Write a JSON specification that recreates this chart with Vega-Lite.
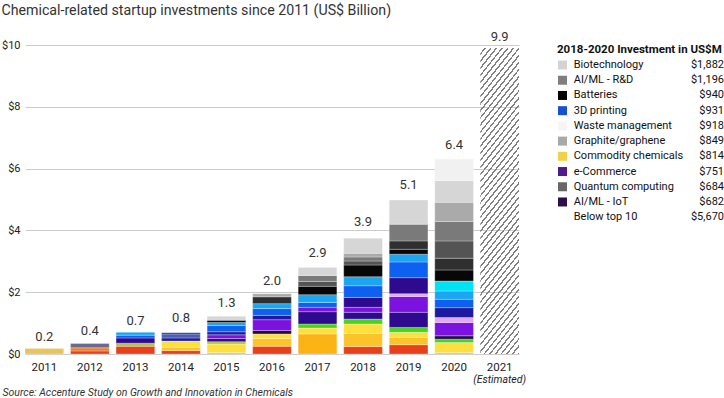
{
  "$schema": "https://vega.github.io/schema/vega-lite/v6.json",
  "padding": {"left": 1, "top": 3, "right": 0, "bottom": 0},
  "config": {"font": "Roboto", "view": {"stroke": null}},
  "title": {"text": "Chemical-related startup investments since 2011 (US$ Billion)", "anchor": "start", "frame": "bounds", "fontSize": 14.2, "fontWeight": "normal", "color": "#333333", "offset": 13},
  "datasets": {
    "segs": [
      {"year": "2011", "c": "tan", "v": 0.18, "o": 1},
      {"year": "2012", "c": "red", "v": 0.10, "o": 1},
      {"year": "2012", "c": "dorange", "v": 0.10, "o": 2},
      {"year": "2012", "c": "slate", "v": 0.14, "o": 3},
      {"year": "2013", "c": "red", "v": 0.25, "o": 1},
      {"year": "2013", "c": "lime", "v": 0.10, "o": 2},
      {"year": "2013", "c": "indigo", "v": 0.17, "o": 3},
      {"year": "2013", "c": "blue", "v": 0.09, "o": 4},
      {"year": "2013", "c": "sky", "v": 0.09, "o": 5},
      {"year": "2014", "c": "red", "v": 0.11, "o": 1},
      {"year": "2014", "c": "gold", "v": 0.11, "o": 2},
      {"year": "2014", "c": "yellow", "v": 0.20, "o": 3},
      {"year": "2014", "c": "navy", "v": 0.10, "o": 4},
      {"year": "2014", "c": "sblue", "v": 0.13, "o": 5},
      {"year": "2014", "c": "navy", "v": 0.04, "o": 6},
      {"year": "2015", "c": "gold", "v": 0.05, "o": 1},
      {"year": "2015", "c": "yellow", "v": 0.27, "o": 2},
      {"year": "2015", "c": "lime", "v": 0.08, "o": 3},
      {"year": "2015", "c": "indigo", "v": 0.10, "o": 4},
      {"year": "2015", "c": "violet", "v": 0.12, "o": 5},
      {"year": "2015", "c": "navy", "v": 0.10, "o": 6},
      {"year": "2015", "c": "blue", "v": 0.20, "o": 7},
      {"year": "2015", "c": "sky", "v": 0.10, "o": 8},
      {"year": "2015", "c": "black", "v": 0.07, "o": 9},
      {"year": "2015", "c": "vlgray", "v": 0.13, "o": 10},
      {"year": "2016", "c": "red", "v": 0.25, "o": 1},
      {"year": "2016", "c": "gold", "v": 0.25, "o": 2},
      {"year": "2016", "c": "yellow", "v": 0.15, "o": 3},
      {"year": "2016", "c": "dpurple", "v": 0.11, "o": 4},
      {"year": "2016", "c": "violet", "v": 0.35, "o": 5},
      {"year": "2016", "c": "navy", "v": 0.14, "o": 6},
      {"year": "2016", "c": "blue", "v": 0.22, "o": 7},
      {"year": "2016", "c": "sky", "v": 0.16, "o": 8},
      {"year": "2016", "c": "charcoal", "v": 0.22, "o": 9},
      {"year": "2016", "c": "lgray", "v": 0.10, "o": 10},
      {"year": "2017", "c": "orange", "v": 0.65, "o": 1},
      {"year": "2017", "c": "yellow", "v": 0.19, "o": 2},
      {"year": "2017", "c": "green", "v": 0.13, "o": 3},
      {"year": "2017", "c": "indigo", "v": 0.40, "o": 4},
      {"year": "2017", "c": "violet", "v": 0.14, "o": 5},
      {"year": "2017", "c": "blue", "v": 0.16, "o": 6},
      {"year": "2017", "c": "sky", "v": 0.25, "o": 7},
      {"year": "2017", "c": "black", "v": 0.27, "o": 8},
      {"year": "2017", "c": "dgray", "v": 0.16, "o": 9},
      {"year": "2017", "c": "gray", "v": 0.19, "o": 10},
      {"year": "2017", "c": "vlgray", "v": 0.26, "o": 11},
      {"year": "2018", "c": "red", "v": 0.24, "o": 1},
      {"year": "2018", "c": "gold", "v": 0.43, "o": 2},
      {"year": "2018", "c": "yellow", "v": 0.30, "o": 3},
      {"year": "2018", "c": "green", "v": 0.16, "o": 4},
      {"year": "2018", "c": "indigo", "v": 0.22, "o": 5},
      {"year": "2018", "c": "violet", "v": 0.16, "o": 6},
      {"year": "2018", "c": "indigo", "v": 0.32, "o": 7},
      {"year": "2018", "c": "blue", "v": 0.38, "o": 8},
      {"year": "2018", "c": "sky", "v": 0.29, "o": 9},
      {"year": "2018", "c": "black", "v": 0.38, "o": 10},
      {"year": "2018", "c": "dgray", "v": 0.13, "o": 11},
      {"year": "2018", "c": "gray", "v": 0.13, "o": 12},
      {"year": "2018", "c": "lgray", "v": 0.12, "o": 13},
      {"year": "2018", "c": "vlgray", "v": 0.49, "o": 14},
      {"year": "2019", "c": "red", "v": 0.30, "o": 1},
      {"year": "2019", "c": "gold", "v": 0.24, "o": 2},
      {"year": "2019", "c": "yellow", "v": 0.16, "o": 3},
      {"year": "2019", "c": "green", "v": 0.16, "o": 4},
      {"year": "2019", "c": "indigo", "v": 0.49, "o": 5},
      {"year": "2019", "c": "violet", "v": 0.51, "o": 6},
      {"year": "2019", "c": "pink", "v": 0.09, "o": 7},
      {"year": "2019", "c": "indigo", "v": 0.52, "o": 8},
      {"year": "2019", "c": "blue", "v": 0.51, "o": 9},
      {"year": "2019", "c": "sky", "v": 0.25, "o": 10},
      {"year": "2019", "c": "black", "v": 0.16, "o": 11},
      {"year": "2019", "c": "charcoal", "v": 0.27, "o": 12},
      {"year": "2019", "c": "gray", "v": 0.54, "o": 13},
      {"year": "2019", "c": "vlgray", "v": 0.78, "o": 14},
      {"year": "2020", "c": "gold", "v": 0.05, "o": 1},
      {"year": "2020", "c": "yellow", "v": 0.32, "o": 2},
      {"year": "2020", "c": "green", "v": 0.11, "o": 3},
      {"year": "2020", "c": "dpurple", "v": 0.11, "o": 4},
      {"year": "2020", "c": "violet", "v": 0.43, "o": 5},
      {"year": "2020", "c": "pink", "v": 0.16, "o": 6},
      {"year": "2020", "c": "navy", "v": 0.32, "o": 7},
      {"year": "2020", "c": "blue", "v": 0.27, "o": 8},
      {"year": "2020", "c": "sky", "v": 0.27, "o": 9},
      {"year": "2020", "c": "cyan", "v": 0.32, "o": 10},
      {"year": "2020", "c": "black", "v": 0.36, "o": 11},
      {"year": "2020", "c": "charcoal", "v": 0.38, "o": 12},
      {"year": "2020", "c": "dgray", "v": 0.56, "o": 13},
      {"year": "2020", "c": "gray", "v": 0.63, "o": 14},
      {"year": "2020", "c": "lgray", "v": 0.62, "o": 15},
      {"year": "2020", "c": "vlgray", "v": 0.70, "o": 16},
      {"year": "2020", "c": "white", "v": 0.70, "o": 17}
    ],
    "estimate": [{"year": "2021", "v": 9.9, "note": "(Estimated)"}],
    "totals": [
      {"year": "2011", "total": 0.2},
      {"year": "2012", "total": 0.4},
      {"year": "2013", "total": 0.7},
      {"year": "2014", "total": 0.8},
      {"year": "2015", "total": 1.3},
      {"year": "2016", "total": 2.0},
      {"year": "2017", "total": 2.9},
      {"year": "2018", "total": 3.9},
      {"year": "2019", "total": 5.1},
      {"year": "2020", "total": 6.4},
      {"year": "2021", "total": 9.9}
    ],
    "legendTitle": [{"name": "2018-2020 Investment in US$M"}],
    "legend": [
      {"o": 1, "name": "Biotechnology", "amt": "$1,882"},
      {"o": 2, "name": "AI/ML - R&D", "amt": "$1,196"},
      {"o": 3, "name": "Batteries", "amt": "$940"},
      {"o": 4, "name": "3D printing", "amt": "$931"},
      {"o": 5, "name": "Waste management", "amt": "$918"},
      {"o": 6, "name": "Graphite/graphene", "amt": "$849"},
      {"o": 7, "name": "Commodity chemicals", "amt": "$814"},
      {"o": 8, "name": "e-Commerce", "amt": "$751"},
      {"o": 9, "name": "Quantum computing", "amt": "$684"},
      {"o": 10, "name": "AI/ML - IoT", "amt": "$682"},
      {"o": 11, "name": "Below top 10", "amt": "$5,670"}
    ]
  },
  "bounds": "flush",
  "spacing": 38,
  "resolve": {"scale": {"x": "independent", "y": "independent", "color": "independent"}},
  "hconcat": [
    {
      "width": 494,
      "height": 309,
      "encoding": {
        "x": {
          "field": "year", "type": "nominal",
          "scale": {"domain": ["2011","2012","2013","2014","2015","2016","2017","2018","2019","2020","2021"], "paddingInner": 0.15, "paddingOuter": 0},
          "axis": {
            "labelAngle": 0, "labelFontSize": 11.5, "labelColor": "#222222", "labelPadding": 7,
            "ticks": false, "domain": false,
            "title": "Source: Accenture Study on Growth and Innovation in Chemicals",
            "titleFontStyle": "italic", "titleFontWeight": "normal", "titleFontSize": 10.5, "titleColor": "#333333",
            "titleAlign": "left", "titleAnchor": "start", "titleX": -23, "titleY": 41, "titleBaseline": "alphabetic"
          }
        }
      },
      "layer": [
        {
          "data": {"name": "segs"},
          "mark": {"type": "bar", "stroke": "#ffffff", "strokeWidth": 0.4, "strokeOpacity": 0.7},
          "encoding": {
            "y": {
              "field": "v", "type": "quantitative", "stack": "zero",
              "scale": {"domain": [0, 10], "nice": false},
              "axis": {
                "values": [0, 2, 4, 6, 8, 10], "labelExpr": "'$' + datum.value", "title": null,
                "domain": false, "ticks": false, "labelPadding": 5, "labelFontSize": 11, "labelColor": "#222222",
                "gridColor": "#cccccc", "gridWidth": 1
              }
            },
            "color": {
              "field": "c", "type": "nominal", "legend": null,
              "scale": {
                "domain": ["red","dorange","orange","gold","yellow","tan","lime","green","dpurple","indigo","violet","pink","navy","sblue","slate","blue","sky","cyan","black","charcoal","dgray","gray","lgray","vlgray","white"],
                "range": ["#e8401c","#ef7d2e","#fcb415","#fcc42b","#fde03d","#e7c556","#b2c53e","#48d31d","#240a48","#2e0b8e","#7c12e0","#e3a7f3","#1d1aa0","#4b60b2","#6b6b91","#0e60f0","#1aa6f2","#00e2f4","#070707","#2f2f2f","#545454","#7a7a7a","#aaaaaa","#d6d6d6","#f1f1f1"]
              }
            },
            "order": {"field": "o", "type": "quantitative"}
          }
        },
        {
          "data": {"name": "estimate"},
          "mark": {
            "type": "bar",
            "color": {
              "gradient": "linear", "x1": 0, "y1": 0, "x2": 0.1787, "y2": 1.13,
              "stops": [
                {"offset": 0, "color": "transparent"},
                {"offset": 0.014, "color": "transparent"},{"offset": 0.014, "color": "#808080"},{"offset": 0.02, "color": "#808080"},{"offset": 0.02, "color": "transparent"},
                {"offset": 0.034, "color": "transparent"},{"offset": 0.034, "color": "#808080"},{"offset": 0.04, "color": "#808080"},{"offset": 0.04, "color": "transparent"},
                {"offset": 0.054, "color": "transparent"},{"offset": 0.054, "color": "#808080"},{"offset": 0.06, "color": "#808080"},{"offset": 0.06, "color": "transparent"},
                {"offset": 0.074, "color": "transparent"},{"offset": 0.074, "color": "#808080"},{"offset": 0.08, "color": "#808080"},{"offset": 0.08, "color": "transparent"},
                {"offset": 0.094, "color": "transparent"},{"offset": 0.094, "color": "#808080"},{"offset": 0.1, "color": "#808080"},{"offset": 0.1, "color": "transparent"},
                {"offset": 0.114, "color": "transparent"},{"offset": 0.114, "color": "#808080"},{"offset": 0.12, "color": "#808080"},{"offset": 0.12, "color": "transparent"},
                {"offset": 0.134, "color": "transparent"},{"offset": 0.134, "color": "#808080"},{"offset": 0.14, "color": "#808080"},{"offset": 0.14, "color": "transparent"},
                {"offset": 0.154, "color": "transparent"},{"offset": 0.154, "color": "#808080"},{"offset": 0.16, "color": "#808080"},{"offset": 0.16, "color": "transparent"},
                {"offset": 0.174, "color": "transparent"},{"offset": 0.174, "color": "#808080"},{"offset": 0.18, "color": "#808080"},{"offset": 0.18, "color": "transparent"},
                {"offset": 0.194, "color": "transparent"},{"offset": 0.194, "color": "#808080"},{"offset": 0.2, "color": "#808080"},{"offset": 0.2, "color": "transparent"},
                {"offset": 0.214, "color": "transparent"},{"offset": 0.214, "color": "#808080"},{"offset": 0.22, "color": "#808080"},{"offset": 0.22, "color": "transparent"},
                {"offset": 0.234, "color": "transparent"},{"offset": 0.234, "color": "#808080"},{"offset": 0.24, "color": "#808080"},{"offset": 0.24, "color": "transparent"},
                {"offset": 0.254, "color": "transparent"},{"offset": 0.254, "color": "#808080"},{"offset": 0.26, "color": "#808080"},{"offset": 0.26, "color": "transparent"},
                {"offset": 0.274, "color": "transparent"},{"offset": 0.274, "color": "#808080"},{"offset": 0.28, "color": "#808080"},{"offset": 0.28, "color": "transparent"},
                {"offset": 0.294, "color": "transparent"},{"offset": 0.294, "color": "#808080"},{"offset": 0.3, "color": "#808080"},{"offset": 0.3, "color": "transparent"},
                {"offset": 0.314, "color": "transparent"},{"offset": 0.314, "color": "#808080"},{"offset": 0.32, "color": "#808080"},{"offset": 0.32, "color": "transparent"},
                {"offset": 0.334, "color": "transparent"},{"offset": 0.334, "color": "#808080"},{"offset": 0.34, "color": "#808080"},{"offset": 0.34, "color": "transparent"},
                {"offset": 0.354, "color": "transparent"},{"offset": 0.354, "color": "#808080"},{"offset": 0.36, "color": "#808080"},{"offset": 0.36, "color": "transparent"},
                {"offset": 0.374, "color": "transparent"},{"offset": 0.374, "color": "#808080"},{"offset": 0.38, "color": "#808080"},{"offset": 0.38, "color": "transparent"},
                {"offset": 0.394, "color": "transparent"},{"offset": 0.394, "color": "#808080"},{"offset": 0.4, "color": "#808080"},{"offset": 0.4, "color": "transparent"},
                {"offset": 0.414, "color": "transparent"},{"offset": 0.414, "color": "#808080"},{"offset": 0.42, "color": "#808080"},{"offset": 0.42, "color": "transparent"},
                {"offset": 0.434, "color": "transparent"},{"offset": 0.434, "color": "#808080"},{"offset": 0.44, "color": "#808080"},{"offset": 0.44, "color": "transparent"},
                {"offset": 0.454, "color": "transparent"},{"offset": 0.454, "color": "#808080"},{"offset": 0.46, "color": "#808080"},{"offset": 0.46, "color": "transparent"},
                {"offset": 0.474, "color": "transparent"},{"offset": 0.474, "color": "#808080"},{"offset": 0.48, "color": "#808080"},{"offset": 0.48, "color": "transparent"},
                {"offset": 0.494, "color": "transparent"},{"offset": 0.494, "color": "#808080"},{"offset": 0.5, "color": "#808080"},{"offset": 0.5, "color": "transparent"},
                {"offset": 0.514, "color": "transparent"},{"offset": 0.514, "color": "#808080"},{"offset": 0.52, "color": "#808080"},{"offset": 0.52, "color": "transparent"},
                {"offset": 0.534, "color": "transparent"},{"offset": 0.534, "color": "#808080"},{"offset": 0.54, "color": "#808080"},{"offset": 0.54, "color": "transparent"},
                {"offset": 0.554, "color": "transparent"},{"offset": 0.554, "color": "#808080"},{"offset": 0.56, "color": "#808080"},{"offset": 0.56, "color": "transparent"},
                {"offset": 0.574, "color": "transparent"},{"offset": 0.574, "color": "#808080"},{"offset": 0.58, "color": "#808080"},{"offset": 0.58, "color": "transparent"},
                {"offset": 0.594, "color": "transparent"},{"offset": 0.594, "color": "#808080"},{"offset": 0.6, "color": "#808080"},{"offset": 0.6, "color": "transparent"},
                {"offset": 0.614, "color": "transparent"},{"offset": 0.614, "color": "#808080"},{"offset": 0.62, "color": "#808080"},{"offset": 0.62, "color": "transparent"},
                {"offset": 0.634, "color": "transparent"},{"offset": 0.634, "color": "#808080"},{"offset": 0.64, "color": "#808080"},{"offset": 0.64, "color": "transparent"},
                {"offset": 0.654, "color": "transparent"},{"offset": 0.654, "color": "#808080"},{"offset": 0.66, "color": "#808080"},{"offset": 0.66, "color": "transparent"},
                {"offset": 0.674, "color": "transparent"},{"offset": 0.674, "color": "#808080"},{"offset": 0.68, "color": "#808080"},{"offset": 0.68, "color": "transparent"},
                {"offset": 0.694, "color": "transparent"},{"offset": 0.694, "color": "#808080"},{"offset": 0.7, "color": "#808080"},{"offset": 0.7, "color": "transparent"},
                {"offset": 0.714, "color": "transparent"},{"offset": 0.714, "color": "#808080"},{"offset": 0.72, "color": "#808080"},{"offset": 0.72, "color": "transparent"},
                {"offset": 0.734, "color": "transparent"},{"offset": 0.734, "color": "#808080"},{"offset": 0.74, "color": "#808080"},{"offset": 0.74, "color": "transparent"},
                {"offset": 0.754, "color": "transparent"},{"offset": 0.754, "color": "#808080"},{"offset": 0.76, "color": "#808080"},{"offset": 0.76, "color": "transparent"},
                {"offset": 0.774, "color": "transparent"},{"offset": 0.774, "color": "#808080"},{"offset": 0.78, "color": "#808080"},{"offset": 0.78, "color": "transparent"},
                {"offset": 0.794, "color": "transparent"},{"offset": 0.794, "color": "#808080"},{"offset": 0.8, "color": "#808080"},{"offset": 0.8, "color": "transparent"},
                {"offset": 0.814, "color": "transparent"},{"offset": 0.814, "color": "#808080"},{"offset": 0.82, "color": "#808080"},{"offset": 0.82, "color": "transparent"},
                {"offset": 0.834, "color": "transparent"},{"offset": 0.834, "color": "#808080"},{"offset": 0.84, "color": "#808080"},{"offset": 0.84, "color": "transparent"},
                {"offset": 0.854, "color": "transparent"},{"offset": 0.854, "color": "#808080"},{"offset": 0.86, "color": "#808080"},{"offset": 0.86, "color": "transparent"},
                {"offset": 0.874, "color": "transparent"},{"offset": 0.874, "color": "#808080"},{"offset": 0.88, "color": "#808080"},{"offset": 0.88, "color": "transparent"},
                {"offset": 0.894, "color": "transparent"},{"offset": 0.894, "color": "#808080"},{"offset": 0.9, "color": "#808080"},{"offset": 0.9, "color": "transparent"},
                {"offset": 0.914, "color": "transparent"},{"offset": 0.914, "color": "#808080"},{"offset": 0.92, "color": "#808080"},{"offset": 0.92, "color": "transparent"},
                {"offset": 0.934, "color": "transparent"},{"offset": 0.934, "color": "#808080"},{"offset": 0.94, "color": "#808080"},{"offset": 0.94, "color": "transparent"},
                {"offset": 0.954, "color": "transparent"},{"offset": 0.954, "color": "#808080"},{"offset": 0.96, "color": "#808080"},{"offset": 0.96, "color": "transparent"},
                {"offset": 0.974, "color": "transparent"},{"offset": 0.974, "color": "#808080"},{"offset": 0.98, "color": "#808080"},{"offset": 0.98, "color": "transparent"},
                {"offset": 0.994, "color": "transparent"},{"offset": 0.994, "color": "#808080"},{"offset": 1, "color": "#808080"}
              ]
            }
          },
          "encoding": {
            "y": {"field": "v", "type": "quantitative"}
          }
        },
        {
          "data": {"name": "estimate"},
          "mark": {"type": "text", "fontSize": 10.5, "fontStyle": "italic", "color": "#222222", "dy": 26, "baseline": "middle"},
          "encoding": {
            "y": {"datum": 0, "type": "quantitative"},
            "text": {"field": "note"}
          }
        },
        {
          "data": {"name": "totals"},
          "mark": {"type": "text", "fontSize": 13, "color": "#333333", "dy": -11, "baseline": "middle"},
          "encoding": {
            "y": {"field": "total", "type": "quantitative"},
            "text": {"field": "total", "type": "quantitative", "format": ".1f"}
          }
        }
      ]
    },
    {
      "width": 167,
      "height": 177,
      "encoding": {
        "y": {
          "field": "name", "type": "nominal", "axis": null,
          "scale": {
            "type": "point", "padding": 0.316,
            "domain": ["2018-2020 Investment in US$M","Biotechnology","AI/ML - R&D","Batteries","3D printing","Waste management","Graphite/graphene","Commodity chemicals","e-Commerce","Quantum computing","AI/ML - IoT","Below top 10"]
          }
        }
      },
      "layer": [
        {
          "data": {"name": "legendTitle"},
          "mark": {"type": "text", "align": "left", "fontSize": 11.5, "fontWeight": "bold", "color": "#111111"},
          "encoding": {
            "x": {"datum": 0, "type": "quantitative", "scale": {"domain": [0, 1]}, "axis": null},
            "text": {"field": "name"}
          }
        },
        {
          "data": {"name": "legend"},
          "transform": [{"filter": "datum.o < 11"}],
          "mark": {"type": "square", "size": 81, "opacity": 1, "filled": true},
          "encoding": {
            "x": {"datum": 0.033, "type": "quantitative"},
            "color": {
              "field": "name", "type": "nominal", "legend": null,
              "scale": {
                "domain": ["Biotechnology","AI/ML - R&D","Batteries","3D printing","Waste management","Graphite/graphene","Commodity chemicals","e-Commerce","Quantum computing","AI/ML - IoT"],
                "range": ["#d3d3d3","#7f7f7f","#000000","#1652d0","#f5f5f5","#a9a9a9","#f2d14a","#4d1a8f","#676767","#2b1049"]
              }
            }
          }
        },
        {
          "data": {"name": "legend"},
          "mark": {"type": "text", "align": "left", "fontSize": 11, "color": "#111111"},
          "encoding": {
            "x": {"datum": 0.1, "type": "quantitative"},
            "text": {"field": "name"}
          }
        },
        {
          "data": {"name": "legend"},
          "mark": {"type": "text", "align": "right", "fontSize": 11, "color": "#111111"},
          "encoding": {
            "x": {"datum": 1, "type": "quantitative"},
            "text": {"field": "amt"}
          }
        }
      ]
    }
  ]
}
